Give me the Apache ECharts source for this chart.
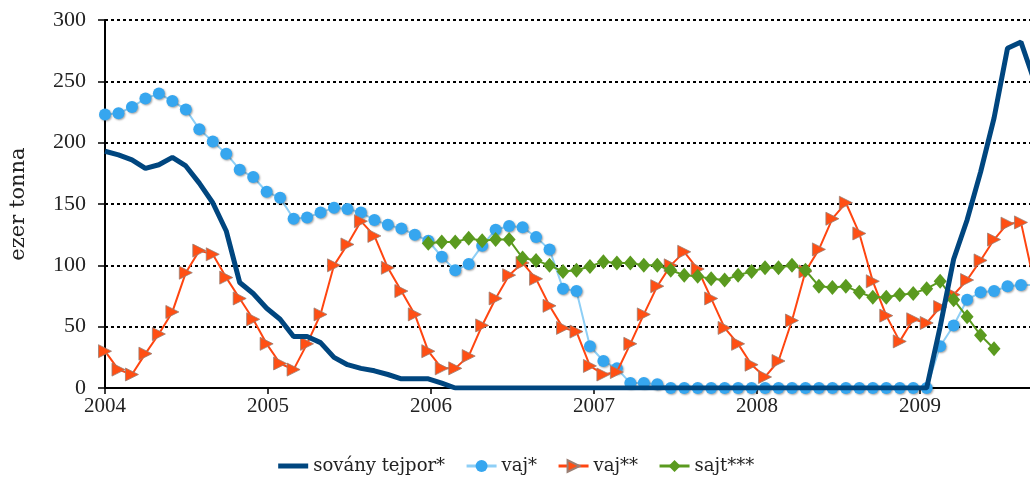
<!DOCTYPE html>
<html>
<head>
<meta charset="utf-8">
<script src="https://cdn.jsdelivr.net/npm/echarts@6/dist/echarts.min.js"></script>
<style>
  html, body { margin: 0; padding: 0; background: #fff; }
  #chart { width: 1030px; height: 482px; }
</style>
</head>
<body>
<div id="chart"></div>
<script>
// year ticks sit a little further apart than 12 monthly points
var yearTicks = [0, 12.1, 24.2, 36.3, 48.4, 60.5];
var yearLabels = ['2004', '2005', '2006', '2007', '2008', '2009'];

// monthly values from Jan 2004, thousand tonnes
var tejpor = [193, 190, 186, 179, 182, 188, 181, 167, 151, 128, 86, 77, 65, 56, 42, 42, 37, 25, 19, 16,
  14, 11, 7.5, 7.5, 7.5, 4,
  0, 0, 0, 0, 0, 0, 0, 0, 0, 0, 0, 0, 0, 0, 0, 0, 0, 0, 0, 0, 0, 0, 0, 0, 0, 0, 0, 0, 0, 0, 0, 0, 0, 0, 0, 0,
  50, 105, 137, 176, 220, 277, 282, 250];
var vaj1 = [223, 224, 229, 236, 240, 234, 227, 211, 201, 191, 178, 172, 160, 155, 138, 139, 143, 147, 146, 143,
  137, 133, 130, 125, 120, 107, 96, 101, 116, 129, 132, 131, 123, 113, 81, 79, 34, 22, 16, 4, 4, 3,
  0, 0, 0, 0, 0, 0, 0, 0, 0, 0, 0, 0, 0, 0, 0, 0, 0, 0, 0, 0,
  34, 51, 72, 78, 79, 83, 84, 84];
var vaj2 = [30, 15, 11, 28, 44, 62, 94, 112, 109, 90, 73, 56, 36, 20, 15, 36, 60, 100, 117, 136, 124, 98, 79, 60, 30, 16,
  16, 26, 51, 73, 92, 102, 89, 67, 49, 46, 18, 11, 13, 36, 60, 83, 100, 111, 97, 73, 49, 36, 19, 9,
  22, 55, 95, 113, 138, 151, 126, 87, 59, 38, 56, 53, 66, 76, 88, 104, 121, 134, 135, 85];
var sajtStart = 24; // Jan 2006
var sajt = [118, 119, 119, 122, 120, 121, 121, 106, 104, 100, 95, 96, 99, 103, 102, 102, 100, 100, 96, 92,
  91, 89, 88, 92, 95, 98, 98, 100, 96, 83, 82, 83, 78, 74, 74, 76, 77, 81, 87, 72, 58, 43, 32];

var serif = "'Liberation Serif', 'DejaVu Serif', serif";
var wideSerif = "'DejaVu Serif', 'Liberation Serif', serif";

function pairs(vals, start) {
  return vals.map(function(v, i) { return [i + (start || 0), v]; });
}

var chart = echarts.init(document.getElementById('chart'), null, { renderer: 'canvas' });
chart.setOption({
  animation: false,
  textStyle: { fontFamily: serif },
  grid: { left: 103, right: 0, top: 20, bottom: 94 },
  legend: {
    bottom: 2,
    left: 'center',
    itemWidth: 30,
    itemHeight: 15,
    itemGap: 20,
    textStyle: { fontFamily: wideSerif, fontSize: 18, color: '#222' },
    data: [
      { name: 'sovány tejpor*', itemStyle: { opacity: 0 }, lineStyle: { width: 5 } },
      { name: 'vaj*', lineStyle: { width: 3 } },
      { name: 'vaj**', lineStyle: { width: 3 } },
      { name: 'sajt***', lineStyle: { width: 3 } }
    ]
  },
  xAxis: {
    type: 'value',
    min: 0,
    max: 68.67,
    axisLine: { lineStyle: { color: '#000', width: 2 } },
    axisTick: { customValues: yearTicks, length: 6, lineStyle: { color: '#000', width: 1.5 } },
    axisLabel: {
      customValues: yearTicks,
      margin: 8,
      fontFamily: serif,
      fontSize: 21,
      color: '#222',
      formatter: function(v) { return yearLabels[Math.round(v / 12.1)] || ''; }
    },
    splitLine: { show: false }
  },
  yAxis: {
    type: 'value',
    min: 0,
    max: 300,
    interval: 50,
    name: 'ezer tonna',
    nameLocation: 'middle',
    nameGap: 76,
    nameTextStyle: { fontFamily: wideSerif, fontSize: 21, color: '#222' },
    axisLine: { show: true, lineStyle: { color: '#000', width: 2 } },
    axisTick: { show: true, length: 7, lineStyle: { color: '#000', width: 1.5 } },
    axisLabel: { margin: 19, fontFamily: serif, fontSize: 22, color: '#222' },
    splitLine: { lineStyle: { color: '#000', width: 2, type: [3, 3] } }
  },
  series: [
    {
      name: 'sovány tejpor*',
      type: 'line',
      data: pairs(tejpor),
      symbol: 'none',
      z: 6,
      itemStyle: { color: '#00467f' },
      lineStyle: { color: '#00467f', width: 5 }
    },
    {
      name: 'vaj*',
      type: 'line',
      data: pairs(vaj1),
      symbol: 'circle',
      symbolSize: 12,
      z: 3,
      itemStyle: { color: '#36a6ef', shadowColor: 'rgba(0,0,0,0.35)', shadowBlur: 2, shadowOffsetX: 1, shadowOffsetY: 1 },
      lineStyle: { color: '#8ecff6', width: 2 }
    },
    {
      name: 'vaj**',
      type: 'line',
      data: pairs(vaj2),
      symbol: 'triangle',
      symbolRotate: -90,
      symbolSize: 13,
      z: 4,
      itemStyle: { color: '#ff4f14', borderColor: '#9a7f74', borderWidth: 0.8 },
      lineStyle: { color: '#ff4510', width: 2 }
    },
    {
      name: 'sajt***',
      type: 'line',
      data: pairs(sajt, sajtStart),
      symbol: 'diamond',
      symbolSize: [13, 15],
      z: 5,
      itemStyle: { color: '#5a9a1f' },
      lineStyle: { color: '#5a9a1f', width: 2 }
    }
  ]
});
window.addEventListener('resize', function() { chart.resize(); });
</script>
</body>
</html>
